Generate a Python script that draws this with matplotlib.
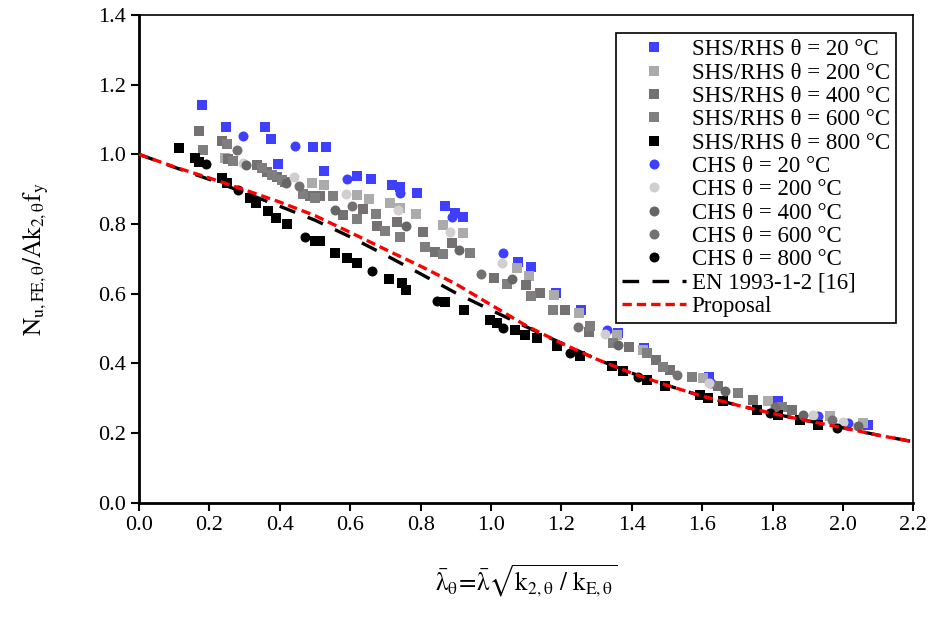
# Normalised resistance vs. elevated-temperature slenderness (SHS/RHS + CHS)
import matplotlib
matplotlib.use("Agg")
import matplotlib.pyplot as plt

plt.rcParams["font.family"] = ["Liberation Serif", "DejaVu Serif"]
plt.rcParams["mathtext.fontset"] = "stix"

# ---- data ----
shs20_x = [0.180, 0.248, 0.359, 0.374, 0.396, 0.495, 0.531, 0.526, 0.620, 0.659, 0.718, 0.741, 0.791,
           0.868, 0.898, 0.921, 1.078, 1.115, 1.185, 1.255, 1.362, 1.435, 1.620, 1.816, 2.072]
shs20_y = [1.142, 1.077, 1.077, 1.043, 0.972, 1.022, 1.022, 0.953, 0.938, 0.929, 0.912, 0.906, 0.890,
           0.852, 0.831, 0.821, 0.692, 0.676, 0.602, 0.552, 0.487, 0.444, 0.362, 0.291, 0.224]

shs200_x = [0.244, 0.491, 0.526, 0.618, 0.654, 0.713, 0.741, 0.786, 0.863, 0.920, 1.073, 1.109, 1.179,
            1.251, 1.357, 1.433, 1.603, 1.788, 1.963, 2.058]
shs200_y = [0.989, 0.917, 0.912, 0.884, 0.871, 0.860, 0.845, 0.829, 0.797, 0.774, 0.673, 0.651, 0.597,
            0.546, 0.482, 0.439, 0.358, 0.291, 0.248, 0.229]

shs400_x = [0.169, 0.235, 0.254, 0.334, 0.363, 0.391, 0.415, 0.486, 0.514, 0.580, 0.636, 0.675, 0.734,
            0.808, 0.841, 0.888, 1.009, 1.099, 1.139, 1.210, 1.279, 1.393, 1.470, 1.509, 1.646, 1.745, 1.854]
shs400_y = [1.067, 1.039, 0.987, 0.970, 0.950, 0.934, 0.922, 0.879, 0.881, 0.826, 0.843, 0.793, 0.807,
            0.778, 0.721, 0.745, 0.645, 0.625, 0.603, 0.554, 0.491, 0.447, 0.410, 0.382, 0.334, 0.295, 0.267]

shs600_x = [0.183, 0.251, 0.268, 0.349, 0.377, 0.405, 0.467, 0.500, 0.552, 0.618, 0.673, 0.699, 0.741,
            0.813, 0.865, 0.940, 1.045, 1.113, 1.177, 1.281, 1.347, 1.442, 1.489, 1.570, 1.703, 1.826]
shs600_y = [1.013, 1.030, 0.982, 0.960, 0.941, 0.927, 0.886, 0.874, 0.879, 0.814, 0.829, 0.780, 0.764,
            0.735, 0.714, 0.716, 0.627, 0.592, 0.554, 0.508, 0.458, 0.429, 0.391, 0.361, 0.316, 0.274]

shs800_x = [0.115, 0.159, 0.171, 0.235, 0.251, 0.315, 0.332, 0.367, 0.389, 0.420, 0.500, 0.514, 0.557,
            0.590, 0.618, 0.711, 0.746, 0.758, 0.869, 0.924, 0.997, 1.016, 1.068, 1.097, 1.130, 1.187,
            1.253, 1.343, 1.376, 1.442, 1.494, 1.594, 1.617, 1.660, 1.755, 1.816, 1.878, 1.930]
shs800_y = [1.017, 0.989, 0.979, 0.931, 0.917, 0.874, 0.860, 0.836, 0.817, 0.800, 0.750, 0.750, 0.716,
            0.702, 0.688, 0.642, 0.630, 0.611, 0.575, 0.554, 0.525, 0.515, 0.496, 0.482, 0.472, 0.450,
            0.420, 0.393, 0.377, 0.353, 0.334, 0.310, 0.300, 0.291, 0.267, 0.252, 0.238, 0.224]

chs20_x = [0.296, 0.443, 0.592, 0.741, 0.888, 1.035, 1.330, 1.625, 1.930, 2.015]
chs20_y = [1.053, 1.024, 0.929, 0.888, 0.821, 0.716, 0.496, 0.345, 0.250, 0.229]

chs200_x = [0.296, 0.440, 0.588, 0.737, 0.884, 1.030, 1.324, 1.620, 1.916, 2.001]
chs200_y = [0.975, 0.934, 0.886, 0.841, 0.778, 0.689, 0.485, 0.343, 0.252, 0.233]

chs400_x = [0.303, 0.418, 0.557, 0.759, 0.910, 1.059, 1.362, 1.665, 1.887, 2.043]
chs400_y = [0.970, 0.919, 0.841, 0.795, 0.726, 0.642, 0.453, 0.322, 0.252, 0.221]

chs600_x = [0.277, 0.455, 0.606, 0.972, 1.248, 1.528, 1.807, 1.968]
chs600_y = [1.013, 0.910, 0.852, 0.657, 0.504, 0.367, 0.274, 0.238]

chs800_x = [0.190, 0.282, 0.472, 0.661, 0.847, 1.035, 1.224, 1.418, 1.793, 1.982]
chs800_y = [0.972, 0.898, 0.764, 0.664, 0.580, 0.501, 0.429, 0.362, 0.257, 0.214]

curve_x = [0.0, 0.1, 0.2, 0.3, 0.4, 0.5, 0.6, 0.7, 0.8, 0.9, 1.0, 1.1, 1.2,
           1.3, 1.4, 1.5, 1.6, 1.7, 1.8, 1.9, 2.0, 2.1, 2.2]
en_y = [1.000, 0.963, 0.928, 0.890, 0.851, 0.811, 0.763, 0.711, 0.657, 0.602, 0.553, 0.505, 0.458,
        0.412, 0.372, 0.337, 0.306, 0.280, 0.256, 0.235, 0.215, 0.194, 0.175]
prop_y = [1.000, 0.964, 0.932, 0.898, 0.863, 0.824, 0.776, 0.727, 0.679, 0.628, 0.568, 0.508, 0.458,
          0.412, 0.372, 0.337, 0.306, 0.280, 0.256, 0.235, 0.215, 0.194, 0.175]

series = [
    (shs20_x, shs20_y, "s", "#3F3FFF", "SHS/RHS θ = 20 °C"),
    (shs200_x, shs200_y, "s", "#ABABAB", "SHS/RHS θ = 200 °C"),
    (shs400_x, shs400_y, "s", "#767171", "SHS/RHS θ = 400 °C"),
    (shs600_x, shs600_y, "s", "#7F7F7F", "SHS/RHS θ = 600 °C"),
    (shs800_x, shs800_y, "s", "#000000", "SHS/RHS θ = 800 °C"),
    (chs20_x, chs20_y, "o", "#3F3FFF", "CHS θ = 20 °C"),
    (chs200_x, chs200_y, "o", "#D0CECE", "CHS θ = 200 °C"),
    (chs400_x, chs400_y, "o", "#666666", "CHS θ = 400 °C"),
    (chs600_x, chs600_y, "o", "#767171", "CHS θ = 600 °C"),
    (chs800_x, chs800_y, "o", "#000000", "CHS θ = 800 °C"),
]

fig = plt.figure(figsize=(9.33, 6.23), dpi=100)
ax = fig.add_axes([0.149, 0.193, 0.830, 0.783])

for xs, ys, mk, col, lab in series:
    ax.plot(xs, ys, linestyle="none", marker=mk, markersize=7.5 if mk == "s" else 7.2,
            color=col, markeredgewidth=0, label=lab, zorder=2 + (0 if "20 °C" in lab else 1))

ax.plot(curve_x, en_y, color="black", lw=2.4, dashes=(5, 4), label="EN 1993-1-2 [16]", zorder=5)
ax.plot(curve_x, prop_y, color="red", lw=2.4, dashes=(2.8, 1.5), label="Proposal", zorder=6)

ax.set_xlim(0, 2.2)
ax.set_ylim(0, 1.4)
ax.set_xticks([i * 0.2 for i in range(12)])
ax.set_yticks([i * 0.2 for i in range(8)])
ax.set_xticklabels([f"{i * 0.2:.1f}" for i in range(12)])
ax.set_yticklabels([f"{i * 0.2:.1f}" for i in range(8)])
ax.tick_params(direction="out", length=6, width=1.5, labelsize=16, top=False, right=False)
for side in ["left", "bottom"]:
    ax.spines[side].set_linewidth(2)
for side in ["top", "right"]:
    ax.spines[side].set_linewidth(1.2)

ax.set_ylabel(r"$\mathrm{N_{u,FE,\theta}/Ak_{2,\theta}f_y}$", fontsize=18, labelpad=34)
ax.set_xlabel(r"$\mathrm{\bar{\lambda}_{\theta}\!=\!\bar{\lambda}\sqrt{k_{2,\theta}\ /\ k_{E,\theta}}}$",
              fontsize=18, labelpad=20)

leg = ax.legend(loc="upper right", bbox_to_anchor=(0.977, 0.962), fontsize=16.5, frameon=True,
                fancybox=False, edgecolor="black", framealpha=1, labelspacing=0.1,
                handlelength=2.8, handletextpad=0.25, borderpad=0.25, borderaxespad=0)
leg.get_frame().set_linewidth(1.2)

fig.savefig("out.png", dpi=100)
